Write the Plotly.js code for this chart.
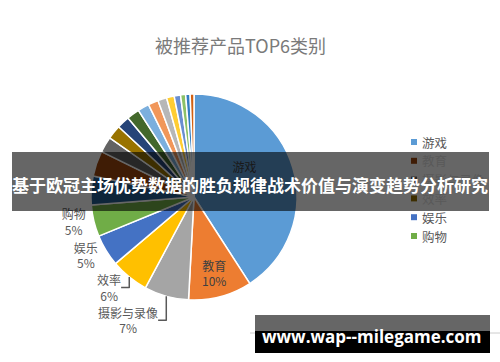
<!DOCTYPE html>
<html>
<head>
<meta charset="utf-8">
<script src="https://cdn.plot.ly/plotly-3.0.1.min.js"></script>
<style>html,body{margin:0;padding:0;background:#fff;}#chart{width:500px;height:362px;}</style>
</head>
<body>
<div id="chart"></div>
<script>
// Data
const categories = ['游戏','教育','摄影与录像','效率','娱乐','购物','社交','工具','音乐','旅游','新闻','健康','财务','生活','天气','参考','导航','体育','商务','图书'];
const shares = [41, 10, 7, 6, 5, 5, 4.5, 4, 2.5, 2.2, 2, 2, 1.8, 1.6, 1.4, 1.2, 1, 0.8, 0.7, 0.6];
const sliceColors = ['#5B9BD5','#ED7D31','#A5A5A5','#FFC000','#4472C4','#70AD47','#255E91','#9E480E','#636363','#997300','#264478','#43682B','#7CAFDD','#F1975A','#B7B7B7','#FFCD33','#698ED0','#8CC168','#327DC2','#D26012'];
const labeledCount = 6;
const legendLabels = ['游戏','教育','摄影与录像','效率','娱乐','购物'];
const legendColors = ['#5B9BD5','#9E480E','#636363','#997300','#4472C4','#70AD47'];
const chartTitle = '被推荐产品TOP6类别';
const bannerText = '基于欧冠主场优势数据的胜负规律战术价值与演变趋势分析研究';
const watermarkText = 'www.wap--milegame.com';

const W = 500, H = 362;
const px = x => x / W;
const py = y => 1 - y / H;

const texttemplate = categories.map((c, i) => {
  if (i === 0) return '%{label}<br>%{percent:.0%}<br> ';
  return i < labeledCount ? '%{label}<br>%{percent:.0%}' : '';
});
const textposition = categories.map((c, i) => i < 2 ? 'inside' : (i < labeledCount ? 'outside' : 'none'));

const trace = {
  type: 'pie',
  labels: categories,
  values: shares,
  sort: false,
  direction: 'clockwise',
  rotation: 0,
  marker: {colors: sliceColors, line: {color: '#ffffff', width: 1.5}},
  texttemplate: texttemplate,
  textposition: textposition,
  insidetextorientation: 'horizontal',
  textfont: {family: 'Noto Sans CJK SC, sans-serif', size: 12, color: '#595959'},
  insidetextfont: {family: 'Noto Sans CJK SC, sans-serif', size: 12, color: '#404040'},
  outsidetextfont: {family: 'Noto Sans CJK SC, sans-serif', size: 12, color: '#595959'},
  hoverinfo: 'skip',
  showlegend: false,
  domain: {x: [px(91), px(297)], y: [py(300), py(94)]}
};

const shapes = [];
const annotations = [];

annotations.push({
  text: chartTitle, xref: 'paper', yref: 'paper', x: px(240), y: py(45),
  xanchor: 'center', yanchor: 'middle', showarrow: false,
  font: {family: 'Noto Sans CJK SC, sans-serif', size: 18, color: '#7a7a7a'}
});

// Legend
legendLabels.forEach((lab, i) => {
  const cy = 142 + i * 18.8;
  shapes.push({type: 'rect', xref: 'paper', yref: 'paper', x0: px(411), x1: px(417), y0: py(cy - 3), y1: py(cy + 3),
    fillcolor: legendColors[i], line: {width: 0}});
  annotations.push({text: lab, xref: 'paper', yref: 'paper', x: px(420), y: py(cy),
    xanchor: 'left', yanchor: 'middle', showarrow: false,
    font: {family: 'Noto Sans CJK SC, sans-serif', size: 12.5, color: '#595959'}});
});

// Banner overlay
shapes.push({type: 'rect', xref: 'paper', yref: 'paper', x0: px(12), x1: px(489), y0: py(211), y1: py(152),
  fillcolor: 'rgba(0,0,0,0.6)', line: {width: 0}, layer: 'above'});
annotations.push({text: '<b>' + bannerText + '</b>', xref: 'paper', yref: 'paper', x: px(250), y: py(184),
  xanchor: 'center', yanchor: 'middle', showarrow: false,
  font: {family: 'Noto Sans CJK SC, sans-serif', size: 17, color: '#ffffff'}});

// Watermark
shapes.push({type: 'line', xref: 'paper', yref: 'paper', x0: px(250), x1: px(500), y0: py(333), y1: py(333),
  line: {color: '#cccccc', width: 1}, layer: 'above'});
shapes.push({type: 'rect', xref: 'paper', yref: 'paper', x0: px(255), x1: px(490), y0: py(331), y1: py(315),
  fillcolor: '#666666', line: {width: 0}, layer: 'above'});
shapes.push({type: 'rect', xref: 'paper', yref: 'paper', x0: px(255), x1: px(490), y0: py(353), y1: py(331),
  fillcolor: '#000000', line: {width: 0}, layer: 'above'});
annotations.push({text: '<b>' + watermarkText + '</b>', xref: 'paper', yref: 'paper', x: px(372), y: py(336),
  xanchor: 'center', yanchor: 'middle', showarrow: false,
  font: {family: 'Open Sans, sans-serif', size: 17, color: '#ffffff'}});

const layout = {
  width: W, height: H,
  margin: {l: 0, r: 0, t: 0, b: 0},
  paper_bgcolor: '#ffffff',
  showlegend: false,
  shapes: shapes,
  annotations: annotations
};

Plotly.newPlot('chart', [trace], layout, {displayModeBar: false, staticPlot: true});
</script>
</body>
</html>
